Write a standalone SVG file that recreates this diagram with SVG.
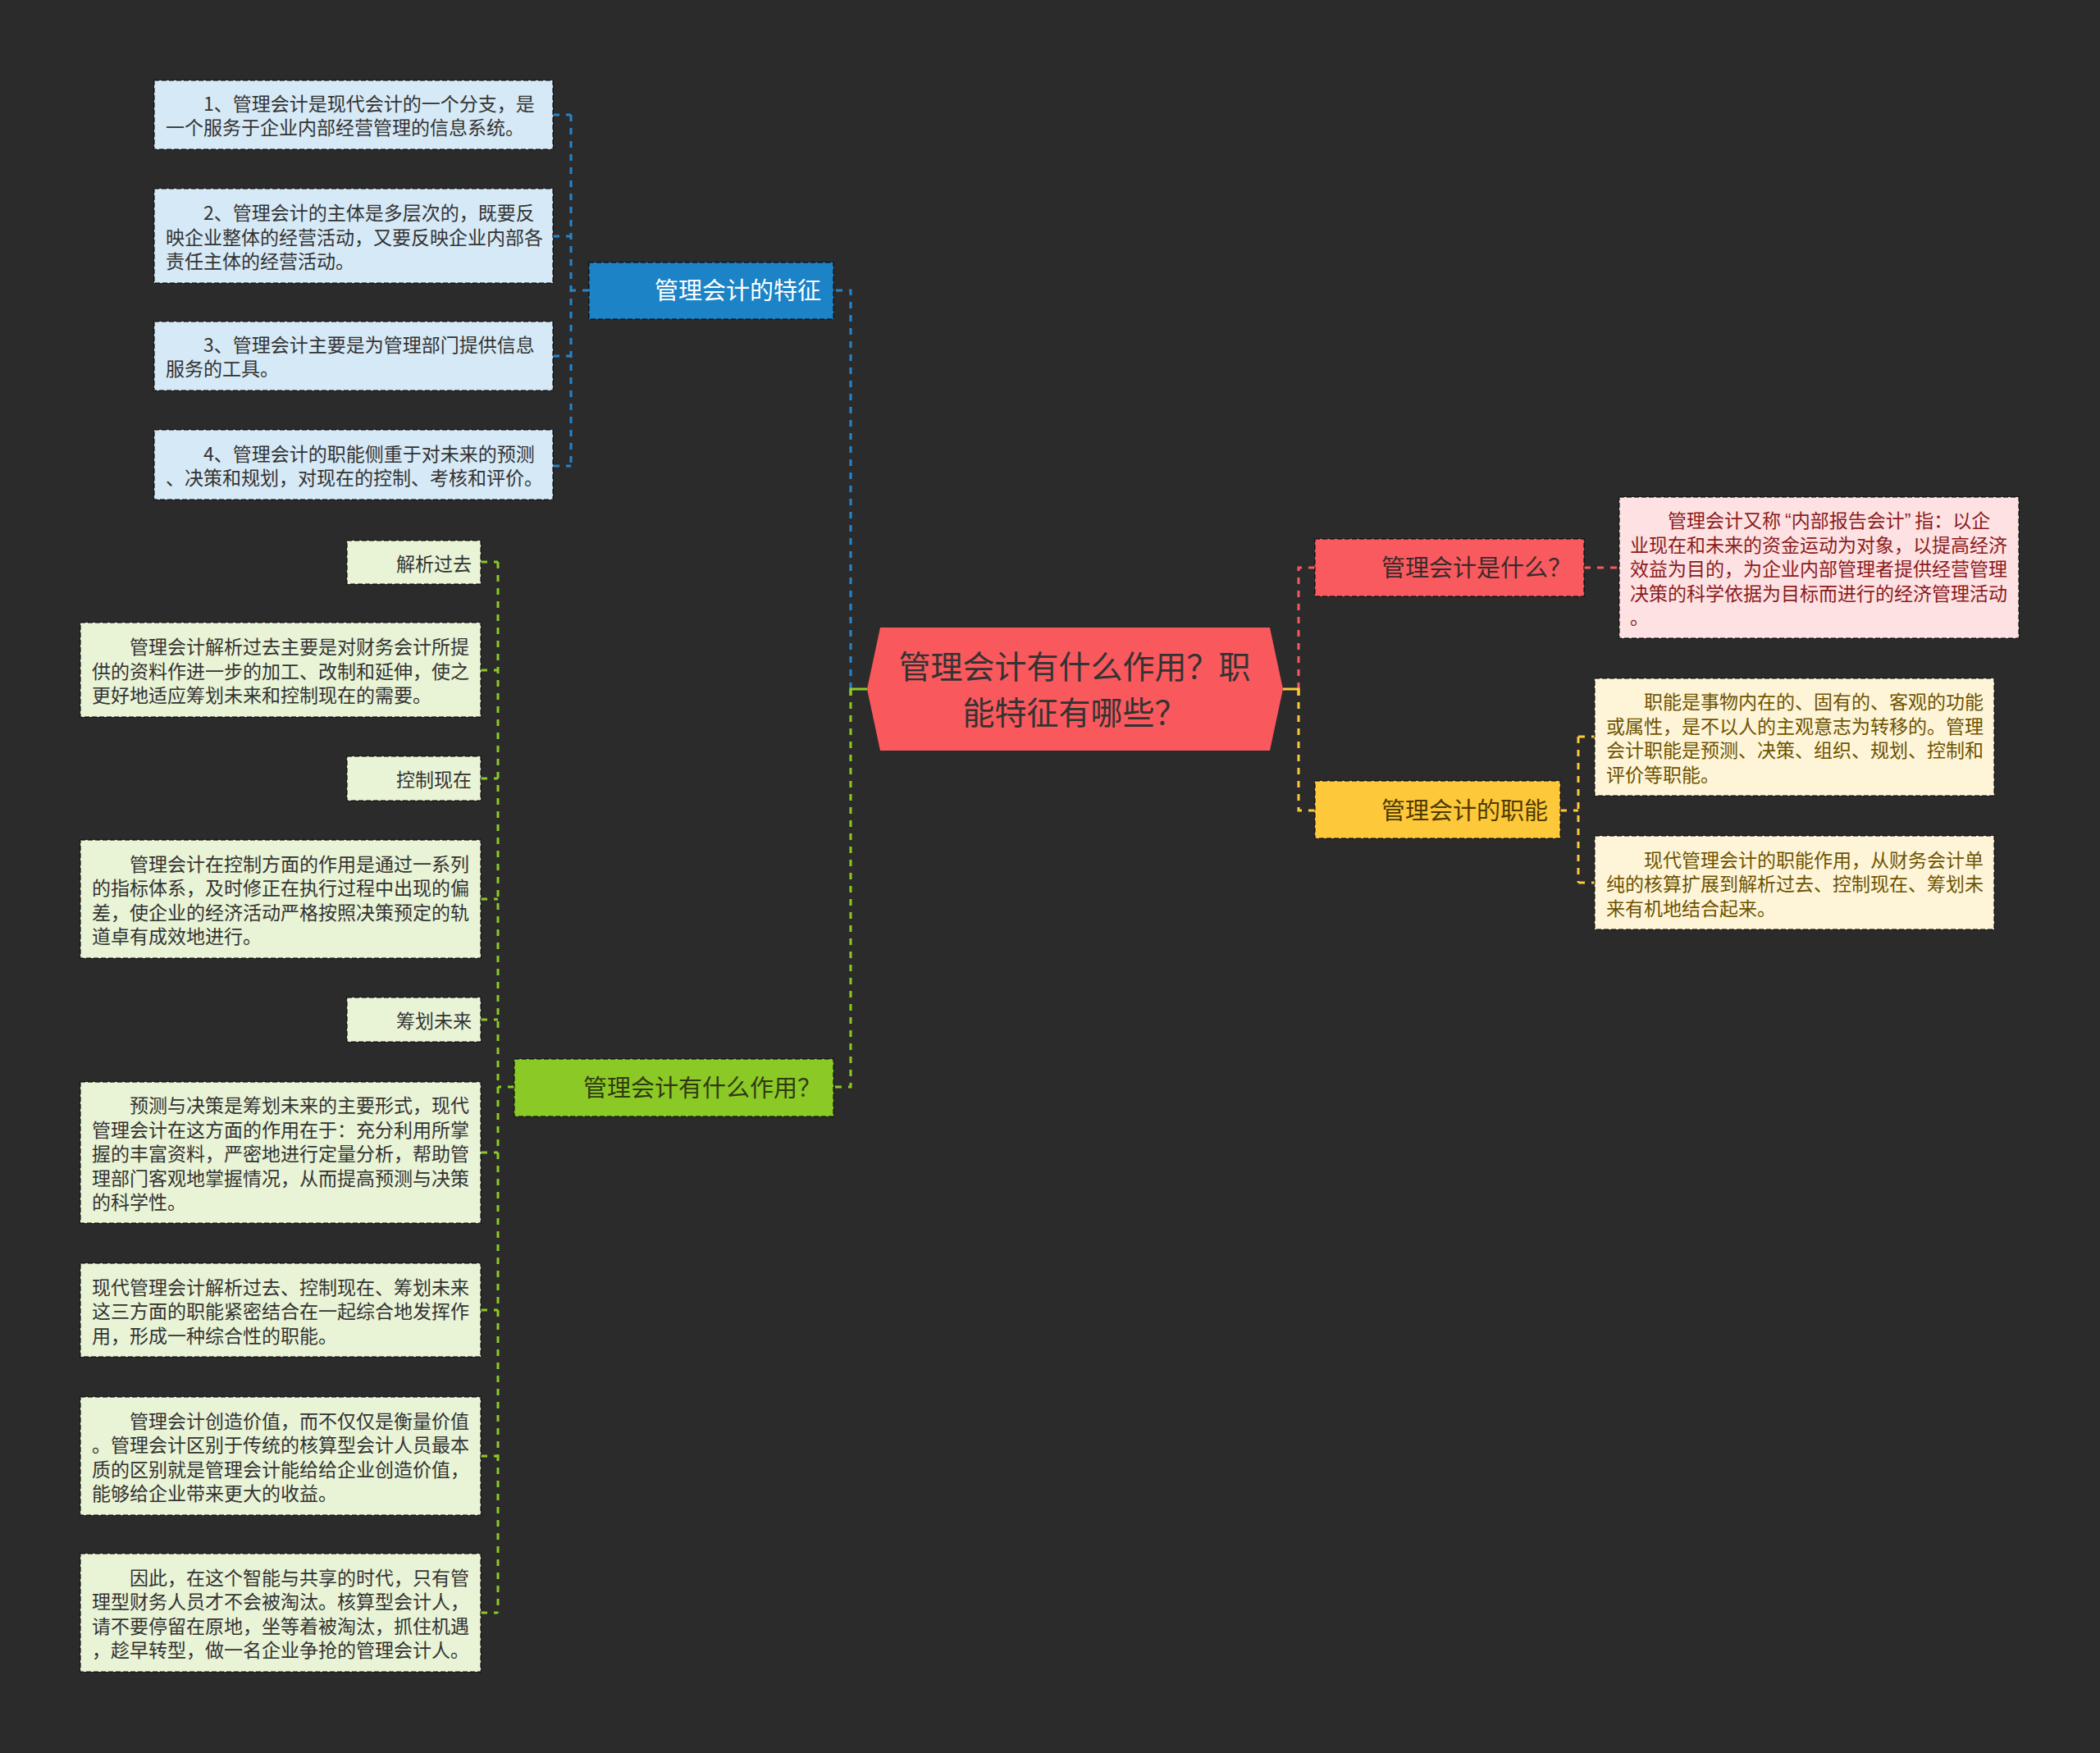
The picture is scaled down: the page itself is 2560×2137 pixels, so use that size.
<svg xmlns="http://www.w3.org/2000/svg" width="2560" height="2137" viewBox="0 0 2560 2137">
<style>
text{font-family:"Noto Sans CJK SC","Noto Sans",sans-serif;}
.t{font-size:23px;}
.n{font-size:29px;}
.q{font-family:"Liberation Sans",sans-serif;}
.qe{font-family:"Liberation Sans",sans-serif;letter-spacing:5px;}
.box{stroke:rgba(0,0,0,0.5);stroke-width:2;stroke-dasharray:6 3;}
.c{fill:none;stroke-width:3;stroke-dasharray:8 8;}
.blue{fill:#d6e9f6;}
.green{fill:#e9f3d6;}
.pink{fill:#fde1e3;}
.cream{fill:#fef5d8;}
</style>
<rect width="2560" height="2137" fill="#2b2b2b"/>
<g id="connectors">
<path class="c" stroke="#2a84c8" d="M1037,840 V354 H1016"/>
<path class="c" stroke="#8bc926" d="M1037,840 V1325 H1016"/>
<path fill="none" stroke="#8bc926" stroke-width="3" d="M1057,840 H1037 V848"/>
<path class="c" stroke="#f45a60" d="M1583,840 V692 H1603"/>
<path class="c" stroke="#fdc83a" d="M1583,840 V988 H1603"/>
<path fill="none" stroke="#fdc83a" stroke-width="3" d="M1564,840 H1583 V848"/>
<path class="c" stroke="#2a84c8" d="M718,354 H696 M696,140 V568 M674,140 H696 M674,288 H696 M674,434 H696 M674,568 H696"/>
<path class="c" stroke="#8bc926" d="M627,1325 H607 M607,685 V1966 M586,685 H607 M586,817 H607 M586,949 H607 M586,1243 H607 M586,1096 H607 M586,1405 H607 M586,1597 H607 M586,1775 H607 M586,1966 H607"/>
<path class="c" stroke="#f45a60" d="M1931,692 H1974"/>
<path class="c" stroke="#fdc83a" d="M1902,988 H1924 M1924,898 V1076 M1924,898 H1944 M1924,1076 H1944"/>
</g>
<g id="root">
<polygon points="1057,840 1073,765 1548,765 1564,840 1548,915 1073,915" fill="#f9585d"/>
<text x="1310" y="827" font-size="39" fill="#333" text-anchor="middle">管理会计有什么作用？职</text>
<text x="1310" y="883" font-size="39" fill="#333" text-anchor="middle">能特征有哪些？</text>
</g>
<g id="node-features">
<rect class="box" x="718" y="320" width="298" height="69" fill="#1c83c6"/>
<text class="n" x="1001" y="365" fill="#fff" text-anchor="end">管理会计的特征</text>
</g>
<g id="f1">
<rect class="box blue" x="188" y="98" width="486" height="84"/>
<text class="t" fill="#333"><tspan x="248" y="135">1、管理会计是现代会计的一个分支，是</tspan><tspan x="202" y="164">一个服务于企业内部经营管理的信息系统。</tspan></text>
</g>
<g id="f2">
<rect class="box blue" x="188" y="230" width="486" height="115"/>
<text class="t" fill="#333"><tspan x="248" y="268">2、管理会计的主体是多层次的，既要反</tspan><tspan x="202" y="298">映企业整体的经营活动，又要反映企业内部各</tspan><tspan x="202" y="327">责任主体的经营活动。</tspan></text>
</g>
<g id="f3">
<rect class="box blue" x="188" y="392" width="486" height="84"/>
<text class="t" fill="#333"><tspan x="248" y="429">3、管理会计主要是为管理部门提供信息</tspan><tspan x="202" y="458">服务的工具。</tspan></text>
</g>
<g id="f4">
<rect class="box blue" x="188" y="524" width="486" height="85"/>
<text class="t" fill="#333"><tspan x="248" y="562">4、管理会计的职能侧重于对未来的预测</tspan><tspan x="202" y="591">、决策和规划，对现在的控制、考核和评价。</tspan></text>
</g>
<g id="node-role">
<rect class="box" x="627" y="1291" width="389" height="70" fill="#8bc926"/>
<text class="n" x="1001" y="1337" fill="#2f3a12" text-anchor="end">管理会计有什么作用？</text>
</g>
<g id="r1">
<rect class="box green" x="423" y="659" width="163" height="53"/>
<text class="t" x="575" y="696" fill="#333" text-anchor="end">解析过去</text>
</g>
<g id="r2">
<rect class="box green" x="98" y="759" width="488" height="115"/>
<text class="t" fill="#333"><tspan x="158" y="797">管理会计解析过去主要是对财务会计所提</tspan><tspan x="112" y="827">供的资料作进一步的加工、改制和延伸，使之</tspan><tspan x="112" y="856">更好地适应筹划未来和控制现在的需要。</tspan></text>
</g>
<g id="r3">
<rect class="box green" x="423" y="922" width="163" height="54"/>
<text class="t" x="575" y="959" fill="#333" text-anchor="end">控制现在</text>
</g>
<g id="r4">
<rect class="box green" x="98" y="1024" width="488" height="144"/>
<text class="t" fill="#333"><tspan x="158" y="1062">管理会计在控制方面的作用是通过一系列</tspan><tspan x="112" y="1091">的指标体系，及时修正在执行过程中出现的偏</tspan><tspan x="112" y="1121">差，使企业的经济活动严格按照决策预定的轨</tspan><tspan x="112" y="1150">道卓有成效地进行。</tspan></text>
</g>
<g id="r5">
<rect class="box green" x="423" y="1216" width="163" height="54"/>
<text class="t" x="575" y="1253" fill="#333" text-anchor="end">筹划未来</text>
</g>
<g id="r6">
<rect class="box green" x="98" y="1319" width="488" height="172"/>
<text class="t" fill="#333"><tspan x="158" y="1356">预测与决策是筹划未来的主要形式，现代</tspan><tspan x="112" y="1386">管理会计在这方面的作用在于：充分利用所掌</tspan><tspan x="112" y="1415">握的丰富资料，严密地进行定量分析，帮助管</tspan><tspan x="112" y="1445">理部门客观地掌握情况，从而提高预测与决策</tspan><tspan x="112" y="1474">的科学性。</tspan></text>
</g>
<g id="r7">
<rect class="box green" x="98" y="1540" width="488" height="114"/>
<text class="t" fill="#333"><tspan x="112" y="1578">现代管理会计解析过去、控制现在、筹划未来</tspan><tspan x="112" y="1607">这三方面的职能紧密结合在一起综合地发挥作</tspan><tspan x="112" y="1637">用，形成一种综合性的职能。</tspan></text>
</g>
<g id="r8">
<rect class="box green" x="98" y="1703" width="488" height="144"/>
<text class="t" fill="#333"><tspan x="158" y="1741">管理会计创造价值，而不仅仅是衡量价值</tspan><tspan x="112" y="1770">。管理会计区别于传统的核算型会计人员最本</tspan><tspan x="112" y="1800">质的区别就是管理会计能给给企业创造价值，</tspan><tspan x="112" y="1829">能够给企业带来更大的收益。</tspan></text>
</g>
<g id="r9">
<rect class="box green" x="98" y="1894" width="488" height="144"/>
<text class="t" fill="#333"><tspan x="158" y="1932">因此，在这个智能与共享的时代，只有管</tspan><tspan x="112" y="1961">理型财务人员才不会被淘汰。核算型会计人，</tspan><tspan x="112" y="1991">请不要停留在原地，坐等着被淘汰，抓住机遇</tspan><tspan x="112" y="2020">，趁早转型，做一名企业争抢的管理会计人。</tspan></text>
</g>
<g id="node-what">
<rect class="box" x="1603" y="657" width="328" height="70" fill="#f85a5f"/>
<text class="n" x="1916" y="703" fill="#3a2a2a" text-anchor="end">管理会计是什么？</text>
</g>
<g id="w1">
<rect class="box pink" x="1974" y="606" width="487" height="172"/>
<text class="t" fill="#8c1c1c"><tspan x="2033" y="643">管理会计又称<tspan class="q" dx="5">“</tspan>内部报告会计<tspan class="qe">”</tspan>指：以企</tspan><tspan x="1987" y="673">业现在和未来的资金运动为对象，以提高经济</tspan><tspan x="1987" y="702">效益为目的，为企业内部管理者提供经营管理</tspan><tspan x="1987" y="732">决策的科学依据为目标而进行的经济管理活动</tspan><tspan x="1987" y="761">。</tspan></text>
</g>
<g id="node-function">
<rect class="box" x="1603" y="952" width="299" height="70" fill="#fdc83a"/>
<text class="n" x="1887" y="999" fill="#4d3b00" text-anchor="end">管理会计的职能</text>
</g>
<g id="u1">
<rect class="box cream" x="1944" y="827" width="487" height="143"/>
<text class="t" fill="#6e5300"><tspan x="2004" y="864">职能是事物内在的、固有的、客观的功能</tspan><tspan x="1958" y="894">或属性，是不以人的主观意志为转移的。管理</tspan><tspan x="1958" y="923">会计职能是预测、决策、组织、规划、控制和</tspan><tspan x="1958" y="953">评价等职能。</tspan></text>
</g>
<g id="u2">
<rect class="box cream" x="1944" y="1019" width="487" height="114"/>
<text class="t" fill="#6e5300"><tspan x="2004" y="1057">现代管理会计的职能作用，从财务会计单</tspan><tspan x="1958" y="1086">纯的核算扩展到解析过去、控制现在、筹划未</tspan><tspan x="1958" y="1116">来有机地结合起来。</tspan></text>
</g>
</svg>
